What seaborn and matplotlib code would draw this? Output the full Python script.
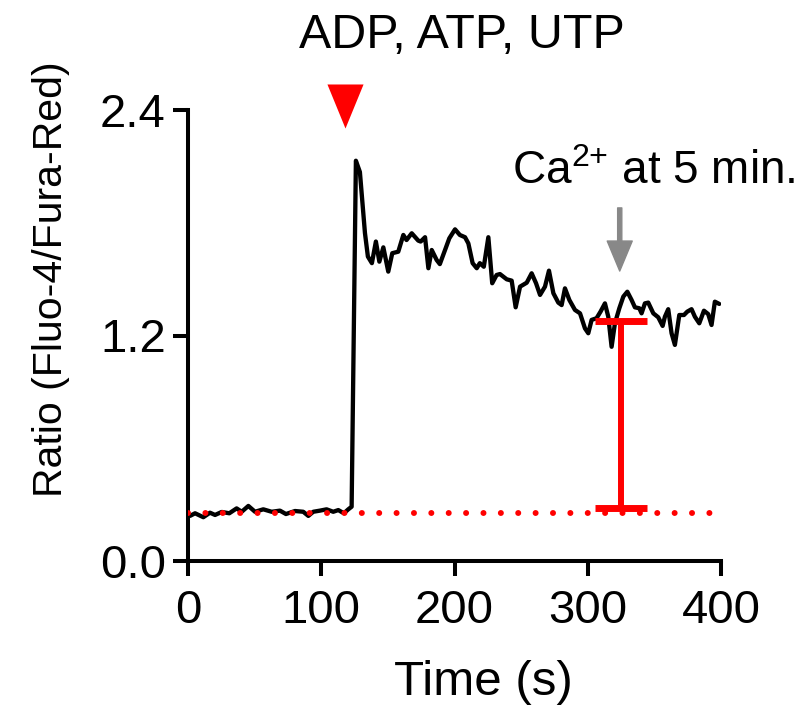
import matplotlib
matplotlib.use("Agg")
import matplotlib.pyplot as plt
import seaborn as sns
import pandas as pd

# trace (time in s, Fluo-4/Fura-Red ratio)
time_s = [1.5, 5.3, 11.5, 16.5, 20.3, 25.3, 31.0, 36.5, 40.3, 45.3,
          50.3, 56.5, 62.8, 69.0, 73.5, 80.3, 86.5, 90.3, 94.0, 99.0,
          104.0, 109.0, 112.8, 117.0, 120.3, 122.8,
          126.0, 129.0, 132.8, 135.0, 138.0, 141.0, 143.6, 146.6, 150.3, 153.3,
          157.8, 161.6, 164.0, 167.9, 172.8, 174.6, 177.9, 180.4, 182.9, 186.6,
          189.0, 192.9, 196.1, 200.4, 204.0, 207.9, 210.4, 213.6, 216.7, 219.0,
          222.0, 225.4, 228.3, 231.6, 234.1, 239.2, 242.9, 245.9, 249.2, 254.2,
          257.9, 261.2, 264.2, 267.9, 270.9, 274.2, 277.9, 280.4, 282.9, 286.2,
          290.4, 294.2, 297.9, 300.4, 302.9, 306.6, 309.6, 312.9, 315.4, 317.9,
          320.4, 323.7, 326.7, 329.7, 332.9, 335.4, 338.7, 340.4, 342.9, 345.4,
          349.2, 352.9, 356.2, 357.9, 360.4, 362.9, 365.4, 368.7, 372.2, 374.7,
          377.9, 380.4, 383.7, 387.2, 390.4, 392.9, 395.4, 398.7]
ratio = [0.240, 0.254, 0.233, 0.257, 0.245, 0.261, 0.254, 0.280, 0.262, 0.293,
         0.262, 0.275, 0.262, 0.268, 0.250, 0.266, 0.262, 0.240, 0.262, 0.268,
         0.275, 0.262, 0.271, 0.254, 0.275, 0.289,
         2.13, 2.07, 1.745, 1.62, 1.585, 1.70, 1.593, 1.669, 1.54, 1.638,
         1.646, 1.735, 1.708, 1.744, 1.705, 1.70, 1.723, 1.558, 1.655, 1.602,
         1.58, 1.655, 1.717, 1.765, 1.735, 1.723, 1.69, 1.585, 1.558, 1.585,
         1.566, 1.723, 1.478, 1.522, 1.527, 1.499, 1.492, 1.35, 1.46, 1.481,
         1.531, 1.478, 1.416, 1.46, 1.545, 1.425, 1.375, 1.362, 1.451, 1.389,
         1.336, 1.318, 1.238, 1.212, 1.283, 1.292, 1.327, 1.371, 1.30, 1.14,
         1.265, 1.345, 1.407, 1.433, 1.389, 1.35, 1.345, 1.318, 1.371, 1.375,
         1.318, 1.297, 1.251, 1.30, 1.34, 1.212, 1.15, 1.309, 1.309, 1.327,
         1.34, 1.30, 1.265, 1.332, 1.314, 1.256, 1.38, 1.368]

baseline_level = 0.255
stim_time = 118
stim_marker_y = 2.42
amp_time = 325
amp_low = 0.28
amp_high = 1.277
ca_time = 324
ca_arrow = (1.879, 1.543)   # tail, tip

x_ticks = [0, 100, 200, 300, 400]
y_ticks = [0.0, 1.2, 2.4]

sns.set_theme(style="ticks")
plt.rcParams["font.family"] = ["Liberation Sans", "DejaVu Sans"]
plt.rcParams["mathtext.fontset"] = "custom"
plt.rcParams["mathtext.rm"] = "Liberation Sans"
plt.rcParams["mathtext.it"] = "Liberation Sans:italic"
plt.rcParams["text.color"] = "black"
plt.rcParams["axes.labelcolor"] = "black"

RED = "#ff0000"
GREY = "#888888"

fig = plt.figure(figsize=(8.06, 7.2), dpi=100)
ax = fig.add_axes([188 / 806, 1 - 561 / 720, 533 / 806, 451 / 720])

df = pd.DataFrame({"Time": time_s, "Ratio": ratio})
sns.lineplot(data=df, x="Time", y="Ratio", color="black", lw=3.1, ax=ax, zorder=3)

# baseline (dotted)
ax.axhline(baseline_level, color=RED, lw=4.3, linestyle=(0, (0.01, 2.9)),
           dash_capstyle="round", zorder=4)

# amplitude bar
ax.errorbar([amp_time], [amp_high], yerr=[[amp_high - amp_low], [0]], fmt="none",
            ecolor=RED, elinewidth=4.3, capsize=18.7, capthick=5, zorder=5)

# stimulus marker
ax.plot([stim_time], [stim_marker_y], marker=[(-0.82, 1), (0.82, 1), (0, -1)],
        markersize=31.7, color=RED, markeredgewidth=0, linestyle="none", clip_on=False)
ax.text(205.6, 2.73, "ADP, ATP, UTP", fontsize=34.8, ha="center", va="baseline")

# Ca2+ addition
ax.annotate("", xy=(ca_time, ca_arrow[1]), xytext=(ca_time, ca_arrow[0]),
            arrowprops=dict(color=GREY, width=3, headwidth=18, headlength=21.6, shrink=0))
ax.text(242.8, 2.006, r"Ca$^{\mathrm{2{+}}}$ at 5 min.", fontsize=33, ha="left",
        va="baseline", clip_on=False)

ax.set_xlim(0, 400)
ax.set_ylim(0, 2.4)
ax.set_xticks(x_ticks)
ax.set_yticks(y_ticks)
ax.set_yticklabels([f"{v:.1f}" for v in y_ticks])
ax.tick_params(axis="both", length=11, width=2.9, labelsize=34, colors="black")
ax.tick_params(axis="x", pad=9)
ax.tick_params(axis="y", pad=5)
for side in ["left", "bottom"]:
    ax.spines[side].set_linewidth(2.9)
    ax.spines[side].set_color("black")
sns.despine(ax=ax)

ax.set_xlabel("Time (s)", fontsize=35.5)
ax.set_ylabel("Ratio (Fluo-4/Fura-Red)", fontsize=29.5)
ax.xaxis.set_label_coords(0.555, -0.22)
ax.yaxis.set_label_coords(-0.222, 0.625)

plt.savefig("out.png", dpi=100)
